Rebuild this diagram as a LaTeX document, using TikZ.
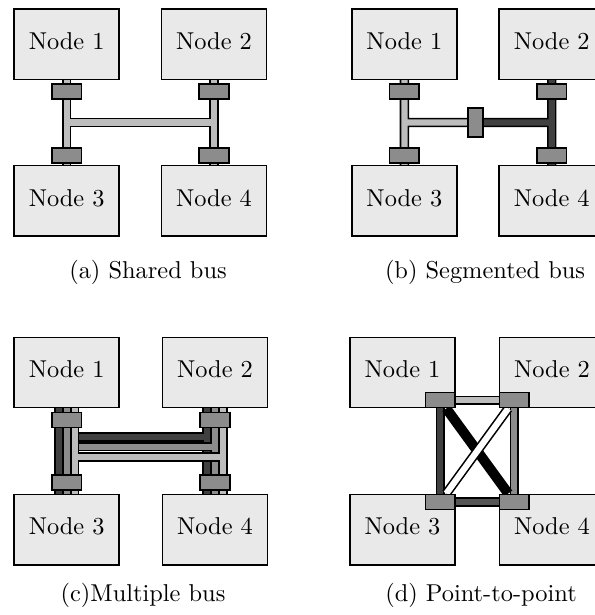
\documentclass[tikz,border=0pt]{standalone}
\usetikzlibrary{calc,backgrounds}
\definecolor{boxfill}{HTML}{E9E9E9}
\definecolor{portfill}{HTML}{8C8C8C}
\definecolor{buslight}{HTML}{BDBDBD}
\definecolor{busmid}{HTML}{8C8C8C}
\definecolor{busdark}{HTML}{404040}
\definecolor{busdarkb}{HTML}{555555}
\begin{document}
\begin{tikzpicture}[x=0.41pt,y=-0.41pt,
  nodebox/.style={draw, line width=0.65pt, fill=boxfill, minimum width=105*0.41pt,
    minimum height=70.4*0.41pt, inner sep=0pt, text height=6.94pt, text depth=2.6pt},
  port/.style={draw, line width=0.65pt, fill=portfill, minimum width=29.5*0.41pt,
    minimum height=15*0.41pt, inner sep=0pt},
  bus/.style={draw=black, line width=1.6*0.41pt, double=#1, double distance=6.2*0.41pt},
  solidlink/.style={draw=black, line width=10*0.41pt},
  caption/.style={anchor=base, inner sep=0pt}]

\begin{scope}[on background layer]
  \fill[white] (0,0) rectangle (595,615);
\end{scope}
\useasboundingbox (0,0) rectangle (595,615);

% ---------- (a) shared bus ----------
\node[nodebox] (a1) at (66.7,44.2) {Node 1};
\node[nodebox] (a2) at (214,44.2) {Node 2};
\node[nodebox] (a3) at (66.7,200.9) {Node 3};
\node[nodebox] (a4) at (214,200.9) {Node 4};
\node[port] (a1p) at (66.7,91.5) {};
\node[port] (a2p) at (214,91.5) {};
\node[port] (a3p) at (66.7,155.5) {};
\node[port] (a4p) at (214,155.5) {};
\begin{scope}[on background layer]
  \draw[bus=buslight] (a1.south) -- (a3.north) (a2.south) -- (a4.north)
    ($(a1.south)!0.5!(a3.north)$) -- ($(a2.south)!0.5!(a4.north)$);
\end{scope}
\node[caption] (capa) at (148,278.5) {(a) Shared bus};

% ---------- (b) segmented bus ----------
\node[nodebox] (b1) at (404.4,44.2) {Node 1};
\node[nodebox] (b2) at (551.7,44.2) {Node 2};
\node[nodebox] (b3) at (404.4,200.9) {Node 3};
\node[nodebox] (b4) at (551.7,200.9) {Node 4};
\node[port] (b1p) at (404.4,91.5) {};
\node[port] (b2p) at (551.7,91.5) {};
\node[port] (b3p) at (404.4,155.5) {};
\node[port] (b4p) at (551.7,155.5) {};
\node[port, minimum width=15*0.41pt, minimum height=29.3*0.41pt] (bbr) at (475.3,122.5) {};
\begin{scope}[on background layer]
  \draw[bus=buslight] (b1.south) -- (b3.north)
    ($(b1.south)!0.5!(b3.north)$) -- (bbr.west);
  \draw[bus=busdark] (b2.south) -- (b4.north)
    ($(b2.south)!0.5!(b4.north)$) -- (bbr.east);
\end{scope}
\node[caption] (capb) at (485,278.5) {(b) Segmented bus};

% ---------- (c) multiple bus ----------
\node[nodebox] (c1) at (66.7,372.5) {Node 1};
\node[nodebox] (c2) at (215,372.5) {Node 2};
\node[nodebox] (c3) at (66.7,529.5) {Node 3};
\node[nodebox] (c4) at (215,529.5) {Node 4};
\node[port] (c1p) at (66.7,419.8) {};
\node[port] (c2p) at (215,419.8) {};
\node[port] (c3p) at (66.7,482.5) {};
\node[port] (c4p) at (215,482.5) {};
\coordinate (cl) at ($(c1.south)!0.5!(c3.north)$);
\coordinate (cr) at ($(c2.south)!0.5!(c4.north)$);
\begin{scope}[on background layer]
  \draw[bus=busdark]
    ($(c1.south)+(-8,0)$) -- ($(c3.north)+(-8,0)$)
    ($(c2.south)+(-8,0)$) -- ($(c4.north)+(-8,0)$)
    ($(cl)+(-8,-14)$) -- ($(cr)+(-8,-14)$);
  \draw[bus=busmid]
    (c1.south) -- (c3.north)
    (c2.south) -- (c4.north)
    ($(cl)+(0,-4.3)$) -- ($(cr)+(0,-4.3)$);
  \draw[bus=buslight]
    ($(c1.south)+(8,0)$) -- ($(c3.north)+(8,0)$)
    ($(c2.south)+(8,0)$) -- ($(c4.north)+(8,0)$)
    ($(cl)+(8,6)$) -- ($(cr)+(8,6)$);
\end{scope}
\node[caption] (capc) at (143,601.5) {(c)Multiple bus};

% ---------- (d) point-to-point ----------
\node[nodebox] (d1) at (402.5,372.5) {Node 1};
\node[nodebox] (d2) at (552,372.5) {Node 2};
\node[nodebox] (d3) at (402.5,529.5) {Node 3};
\node[nodebox] (d4) at (552,529.5) {Node 4};
\node[port, anchor=south east] (d1p) at (d1.south east) {};
\node[port, anchor=south west] (d2p) at (d2.south west) {};
\node[port, anchor=north east] (d3p) at (d3.north east) {};
\node[port, anchor=north west] (d4p) at (d4.north west) {};
\begin{scope}[on background layer]
  \draw[bus=buslight] (d1p) -- (d2p);
  \draw[bus=busdarkb] (d3p) -- (d4p);
  \draw[bus=busdark] (d1p) -- (d3p);
  \draw[bus=busmid] (d2p) -- (d4p);
  \draw[solidlink] (d1p) -- (d4p);
  \draw[bus=white] (d2p) -- (d3p);
\end{scope}
\node[caption] (capd) at (481,601.5) {(d) Point-to-point};

\end{tikzpicture}
\end{document}
